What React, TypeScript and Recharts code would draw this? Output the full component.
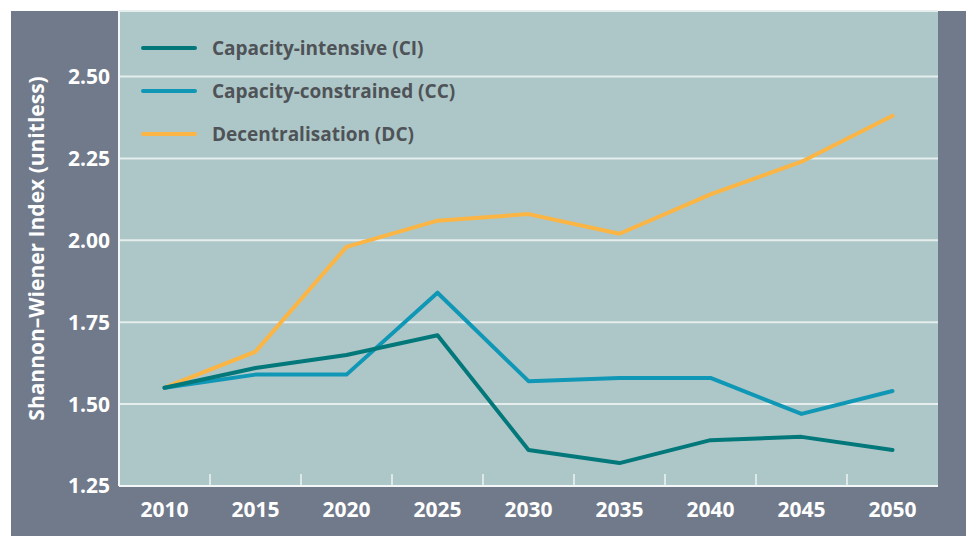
import React from "react";
import { LineChart, Line, XAxis, YAxis, CartesianGrid, Legend } from "recharts";

const years = [2010, 2015, 2020, 2025, 2030, 2035, 2040, 2045, 2050];
const ciValues = [1.55, 1.61, 1.65, 1.71, 1.36, 1.32, 1.39, 1.4, 1.36];
const ccValues = [1.55, 1.59, 1.59, 1.84, 1.57, 1.58, 1.58, 1.47, 1.54];
const dcValues = [1.55, 1.66, 1.98, 2.06, 2.08, 2.02, 2.14, 2.24, 2.38];
const yTicks = [1.25, 1.5, 1.75, 2.0, 2.25, 2.5];
const yDomain = [1.25, 2.7];

const seriesNames = ["Capacity-intensive (CI)", "Capacity-constrained (CC)", "Decentralisation (DC)"];
const seriesColors = ["#03787a", "#1097b5", "#fbb545"];

const data = years.map((year, i) => ({
  year,
  ci: ciValues[i],
  cc: ccValues[i],
  dc: dcValues[i],
}));

// tick marks sit half-way between the labelled years
const step = years[1] - years[0];
const boundaries = years.slice(1).map((y) => y - step / 2);
const xTicks = [...years, ...boundaries].sort((a, b) => a - b);
const xDomain = [years[0] - step / 2, years[years.length - 1] + step / 2];

const FONT = "'Open Sans', 'DejaVu Sans', sans-serif";

const XTick = (props: any) => {
  const { x, y, payload } = props;
  if (years.includes(payload.value)) {
    return (
      <text x={x} y={y + 16} dy="0.71em" textAnchor="middle" fill="#ffffff" fontSize={21} fontWeight={700} fontFamily={FONT}>
        {payload.value}
      </text>
    );
  }
  return <line x1={x} x2={x} y1={y} y2={y - 12} stroke="#eef3f3" strokeWidth={1.5} />;
};

const LegendBox = () => (
  <div style={{ fontFamily: FONT }}>
    {seriesNames.map((name, i) => (
      <div key={name} style={{ display: "flex", alignItems: "center", height: 43 }}>
        <div style={{ width: 56, height: 4, borderRadius: 2, background: seriesColors[i], marginRight: 15 }} />
        <span style={{ fontSize: 19, fontWeight: 700, color: "#4f5357" }}>{name}</span>
      </div>
    ))}
  </div>
);

export default function App() {
  return (
    <div style={{ position: "absolute", left: 0, top: 0, width: 966, height: 536, background: "#fff" }}>
      <div style={{ position: "absolute", left: 11, top: 11, width: 955, height: 525, background: "#717a8b" }} />
      <div style={{ position: "absolute", left: 0, top: 0 }}>
        <LineChart width={966} height={536} data={data} margin={{ top: 11, right: 28, bottom: 0, left: 0 }}>
          <CartesianGrid vertical={false} fill="#adc7c8" stroke="#e6eded" strokeWidth={2} />
          <XAxis
            dataKey="year"
            type="number"
            domain={xDomain}
            ticks={xTicks}
            interval={0}
            height={50}
            tickLine={false}
            tickSize={0}
            tickMargin={0}
            tick={<XTick />}
            axisLine={{ stroke: "#f4f7f7", strokeWidth: 2 }}
          />
          <YAxis
            domain={yDomain}
            ticks={yTicks}
            width={119}
            tickLine={false}
            tickSize={0}
            tickMargin={9}
            tickFormatter={(v: number) => v.toFixed(2)}
            tick={{ fill: "#ffffff", fontSize: 21, fontWeight: 700, fontFamily: FONT }}
            axisLine={{ stroke: "#f4f7f7", strokeWidth: 2 }}
            label={{
              value: "Shannon–Wiener Index (unitless)",
              angle: -90,
              position: "insideLeft",
              offset: 37,
              style: { textAnchor: "middle", fill: "#ffffff", fontSize: 21, fontWeight: 700, fontFamily: FONT },
            }}
          />
          <YAxis
            yAxisId="right"
            orientation="right"
            domain={yDomain}
            width={0}
            tick={false}
            tickLine={false}
            axisLine={{ stroke: "#e6eded", strokeWidth: 2 }}
          />
          <Legend
            layout="vertical"
            align="center"
            verticalAlign="middle"
            content={<LegendBox />}
            wrapperStyle={{ top: 26, left: 141, width: "auto", height: "auto" }}
          />
          <Line dataKey="dc" name={seriesNames[2]} stroke={seriesColors[2]} strokeWidth={4} dot={false} activeDot={false} strokeLinecap="round" strokeLinejoin="round" isAnimationActive={false} />
          <Line dataKey="cc" name={seriesNames[1]} stroke={seriesColors[1]} strokeWidth={4} dot={false} activeDot={false} strokeLinecap="round" strokeLinejoin="round" isAnimationActive={false} />
          <Line dataKey="ci" name={seriesNames[0]} stroke={seriesColors[0]} strokeWidth={4} dot={false} activeDot={false} strokeLinecap="round" strokeLinejoin="round" isAnimationActive={false} />
        </LineChart>
      </div>
    </div>
  );
}
